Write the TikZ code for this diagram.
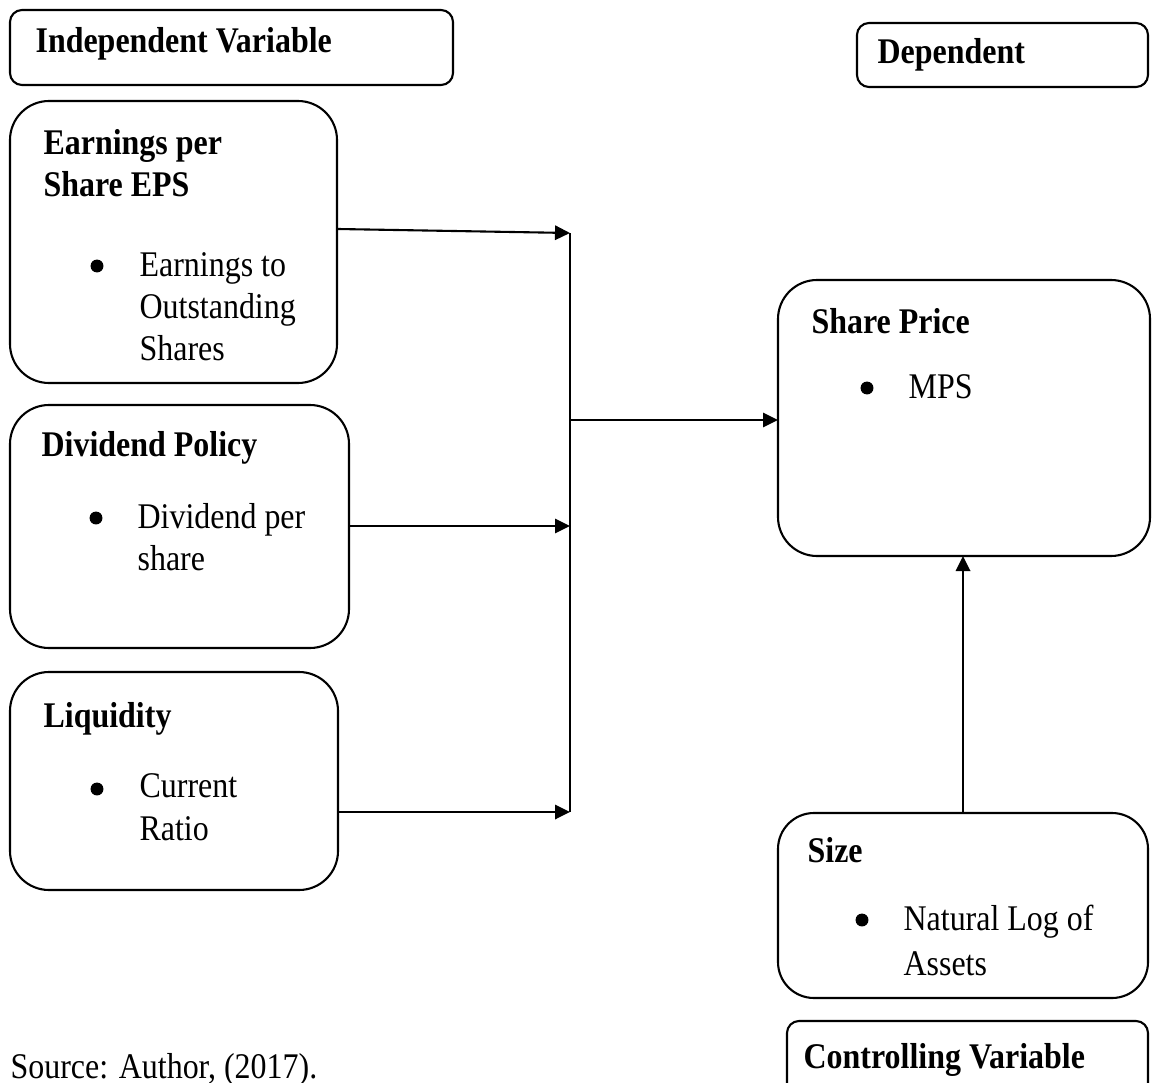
\documentclass[tikz,border=0pt]{standalone}
\usepackage{fontspec}
\setmainfont{Liberation Serif}
\usetikzlibrary{arrows.meta}
\def\u{0.3333pt}
\newcommand{\mainsize}{\fontsize{10.65}{14}\selectfont}
\newcommand{\T}[1]{\scalebox{1}[1.13]{#1}}
\tikzset{
  box/.style={draw, line width=0.7pt, anchor=north west, inner sep=0pt, outer sep=0pt},
  lbl/.style={anchor=base west, inner sep=0pt, font=\mainsize\bfseries},
  itm/.style={anchor=base west, inner sep=0pt, font=\mainsize},
  bul/.style={circle, fill=black, inner sep=0pt, minimum size=4.3pt},
  arr/.style={line width=0.7pt, -{Triangle[length=5pt,width=4.8pt]}},
  ln/.style={line width=0.7pt}
}
\begin{document}
\begin{tikzpicture}[x=0.3333pt, y=-0.3333pt]
\useasboundingbox (0,0) rectangle (1160,1082);
% header boxes
\node[box, rounded corners=4pt, minimum width={443*\u}, minimum height={75*\u}] (indep) at (10,10) {};
\node[lbl] (indepT) at (35,53) {\T{Independent Variable}};
\node[box, rounded corners=4pt, minimum width={291*\u}, minimum height={64*\u}] (dep) at (857,23) {};
\node[lbl] (depT) at (877,64) {\T{Dependent}};
% EPS
\node[box, rounded corners=13pt, minimum width={327*\u}, minimum height={282*\u}] (eps) at (10,101) {};
\node[lbl] (epsT1) at (43,155) {\T{Earnings per}};
\node[lbl] (epsT2) at (43,197) {\T{Share EPS}};
\node[bul] (epsB) at (97,266) {};
\node[itm] (epsI1) at (139,276) {\T{Earnings to}};
\node[itm] (epsI2) at (139,318) {\T{Outstanding}};
\node[itm] (epsI3) at (139,360) {\T{Shares}};
% Dividend
\node[box, rounded corners=13pt, minimum width={339*\u}, minimum height={243*\u}] (div) at (10,405) {};
\node[lbl] (divT) at (41,456) {\T{Dividend Policy}};
\node[bul] (divB) at (96,518) {};
\node[itm] (divI1) at (137,528) {\T{Dividend per}};
\node[itm] (divI2) at (137,570) {\T{share}};
% Liquidity
\node[box, rounded corners=13pt, minimum width={328*\u}, minimum height={218*\u}] (liq) at (10,672) {};
\node[lbl] (liqT) at (43,727) {\T{Liquidity}};
\node[bul] (liqB) at (97,789) {};
\node[itm] (liqI1) at (139,797) {\T{Current}};
\node[itm] (liqI2) at (139,840) {\T{Ratio}};
% Share price
\node[box, rounded corners=13pt, minimum width={372*\u}, minimum height={276*\u}] (sp) at (778,280) {};
\node[lbl] (spT) at (811,333) {\T{Share Price}};
\node[bul] (spB) at (867,388) {};
\node[itm] (spI) at (908,398) {\T{MPS}};
% Size
\node[box, rounded corners=12pt, minimum width={370*\u}, minimum height={185*\u}] (size) at (778,813) {};
\node[lbl] (sizeT) at (807,862) {\T{Size}};
\node[bul] (sizeB) at (862,920) {};
\node[itm] (sizeI1) at (903,930) {\T{Natural Log of}};
\node[itm] (sizeI2) at (903,975) {\T{Assets}};
% Controlling
\node[box, rounded corners=4pt, minimum width={361*\u}, minimum height={75*\u}] (ctrl) at (787,1021) {};
\node[lbl] (ctrlT) at (803,1068) {\T{Controlling Variable}};
% Source
\node[itm] (src) at (10,1078) {\T{Source: Author, (2017).}};
% connectors
\coordinate (jA) at (570,233);
\coordinate (jB) at (570,526);
\coordinate (jC) at (570,812);
\coordinate (jM) at (570,420);
\coordinate (epsOut) at (338,229);
\draw[ln] (jA) -- (jC);
\draw[arr] (epsOut) -- (jA);
\draw[arr] (div.east |- jB) -- (jB);
\draw[arr] (liq.east |- jC) -- (jC);
\draw[arr] (jM) -- (sp.west |- jM);
\draw[arr] (size.north -| 963,0) -- (sp.south -| 963,0);
\end{tikzpicture}
\end{document}
